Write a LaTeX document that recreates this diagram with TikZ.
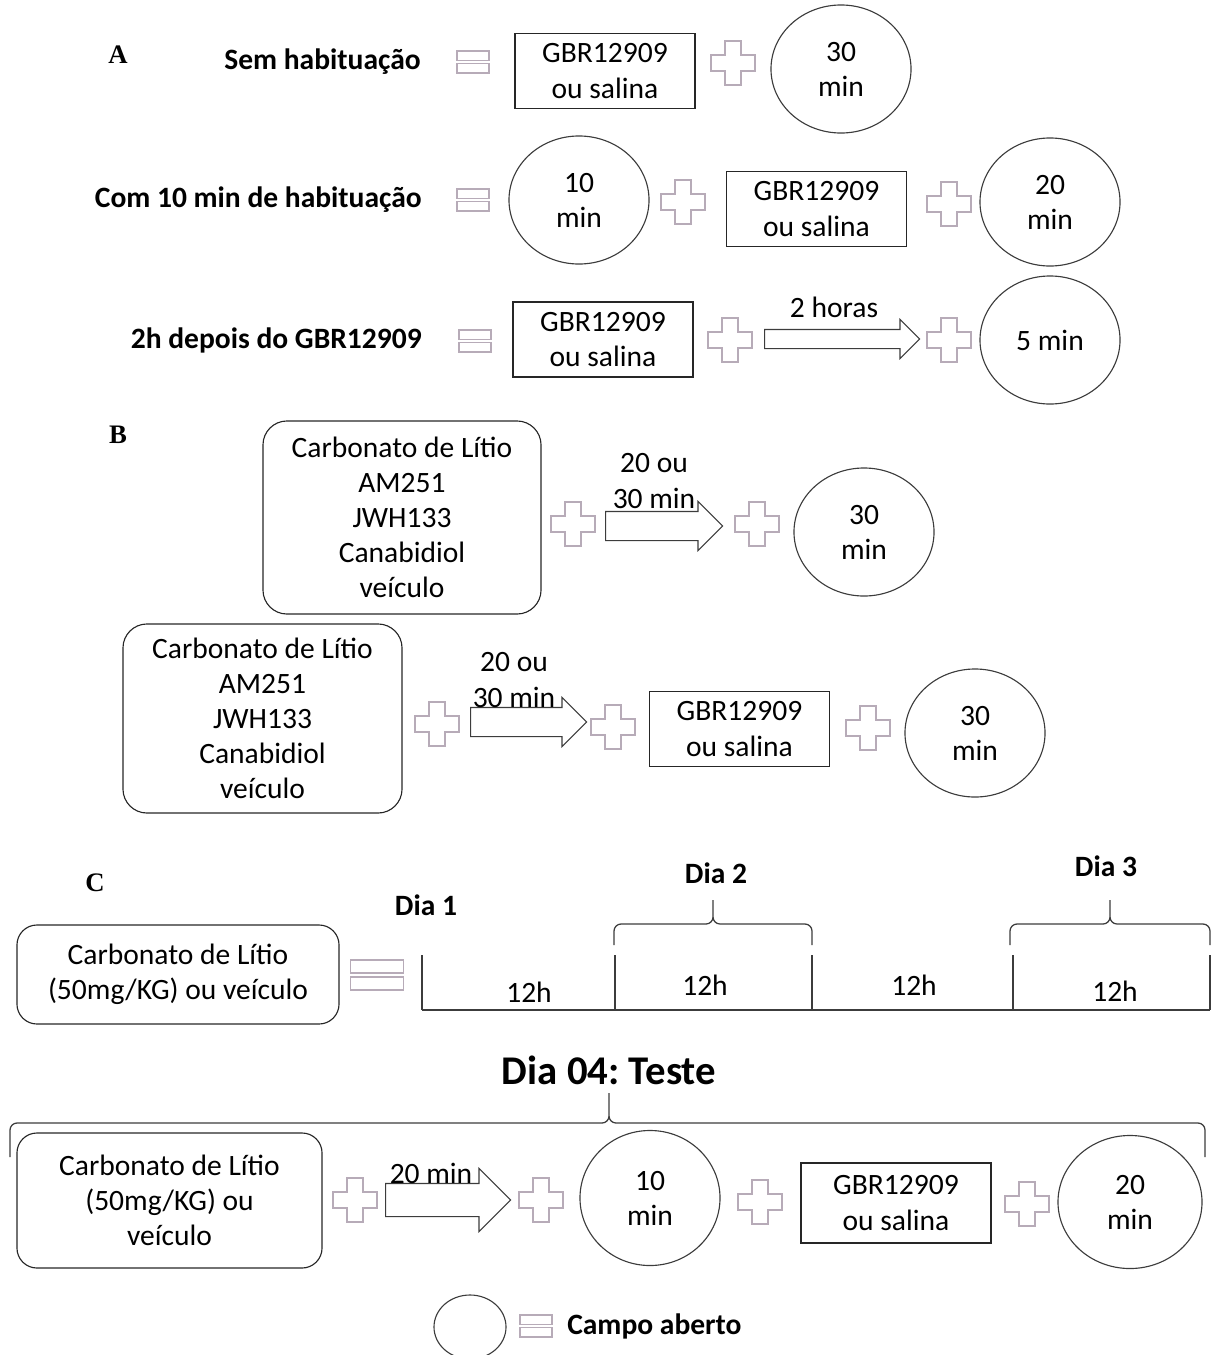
\documentclass[tikz,border=0pt]{standalone}
\usepackage{fontspec}
\setmainfont{Carlito}
\newfontfamily\letrafont{Liberation Serif}
\usetikzlibrary{positioning, shapes, shapes.arrows, calc}
\frenchspacing

\definecolor{cinza}{HTML}{B7ABB8}
\definecolor{traco}{HTML}{3C3C3C}

% chave: x1, x2, xm, yfim, ylinha, ypico
\newcommand{\chave}[6]{%
  \draw[traco, line width=0.9pt, rounded corners=5pt] (#1,#4) -- (#1,#5) -- (#3,#5) -- (#3,#6)
    (#3,#6) -- (#3,#5) -- (#2,#5) -- (#2,#4);}

\begin{document}
\begin{tikzpicture}[x=0.025cm, y=-0.025cm,
    txt/.style={font=\fontsize{21}{25}\selectfont, align=center, inner sep=0pt},
    bold/.style={font=\fontsize{21}{25}\selectfont\bfseries, inner sep=0pt},
    letra/.style={font=\fontsize{19}{22}\selectfont\letrafont\bfseries, inner sep=0pt},
    gbr/.style={draw=black!85, line width=0.8pt, txt, minimum width=4.5cm, minimum height=1.875cm},
    campo/.style={draw=traco, line width=0.8pt, ellipse, txt, minimum width=3.5cm, minimum height=3.2cm},
    droga/.style={draw=black!85, line width=0.8pt, rounded corners=0.6cm, txt},
    seta/.style={draw=traco, line width=0.8pt, single arrow, single arrow head extend=0.25cm,
      inner xsep=0pt, inner ysep=0.35cm, anchor=tail},
    somar/.pic={\draw[cinza, line width=1pt] (-8,-22) -- (8,-22) -- (8,-8) -- (22,-8) -- (22,8)
      -- (8,8) -- (8,22) -- (-8,22) -- (-8,8) -- (-22,8) -- (-22,-8) -- (-8,-8) -- cycle;},
    igual/.pic={\draw[cinza, line width=1pt] (-16,-11) rectangle (16,-1.5) (-16,1.5) rectangle (16,11);}]

    \useasboundingbox (0,0) rectangle (1211,1355);

    % A
    \node[letra] (A) at (118,55) {A};
    \node[bold, anchor=east] (semhab) at (421,62) {Sem habituação};
    \node[bold, anchor=east] (comhab) at (422,200) {Com 10 min de habituação};
    \node[bold, anchor=east] (depois) at (422,340) {2h depois do GBR12909};

    \node[gbr] (gbrA) at (605,71) {GBR12909\\ou salina};
    \node[campo] (campoA) at (841,69) {30\\min};

    \node[campo] (campoBa) at (579,200) {10\\min};
    \node[gbr] (gbrB) at (816.5,209) {GBR12909\\ou salina};
    \node[campo] (campoBb) at (1050,202) {20\\min};

    \node[gbr] (gbrC) at (603,339.5) {GBR12909\\ou salina};
    \node[seta, minimum height=3.875cm, inner ysep=0.225cm] (setaA) at (764,339) {};
    \node[txt] (horas) at (834,307) {2 horas};
    \node[campo] (campoC) at (1050,340) {5 min};

    % B
    \node[letra] (B) at (118,435) {B};
    \node[droga, minimum width=6.95cm, minimum height=4.825cm] (drogaB1) at (402,517.5)
      {Carbonato de Lítio\\AM251\\JWH133\\Canabidiol\\veículo};
    \node[seta, minimum height=2.925cm] (setaB1) at (605,526) {};
    \node[txt] (tempoB1) at (654,481) {20 ou\\30 min};
    \node[campo] (campoB1) at (864,532) {30\\min};

    \node[droga, minimum width=6.975cm, minimum height=4.725cm] (drogaB2) at (262.5,718.5)
      {Carbonato de Lítio\\AM251\\JWH133\\Canabidiol\\veículo};
    \node[seta, minimum height=2.9cm] (setaB2) at (470,722) {};
    \node[txt] (tempoB2) at (514,680) {20 ou\\30 min};
    \node[gbr] (gbrB2) at (739.5,729) {GBR12909\\ou salina};
    \node[campo] (campoB2) at (975,733) {30\\min};

    % C
    \node[letra] (C) at (95,883) {C};
    \node[droga, rounded corners=0.5cm, minimum width=8.05cm, minimum height=2.475cm] (litio) at (178,974.5)
      {Carbonato de Lítio\\(50mg/KG) ou veículo};
    \pic[xscale=1.64, yscale=1.36] at (377,975) {igual};

    \draw[traco, line width=1pt] (422,1010) -- (1210,1010);
    \foreach \x in {422,615,812,1013,1210}
      \draw[traco, line width=1pt] (\x,955) -- (\x,1010);
    \foreach \x/\y in {529/992, 705/985, 914/985, 1115/991}
      \node[txt] (h\x) at (\x,\y) {12h};

    \node[bold] (dia1) at (426,905) {Dia 1};
    \node[bold] (dia2) at (716,873) {Dia 2};
    \node[bold] (dia3) at (1106,866) {Dia 3};
    \chave{614}{812}{713}{945}{924}{900}
    \chave{1010}{1210}{1110}{945}{924}{900}

    \node[font=\fontsize{29}{34}\selectfont\bfseries, inner sep=0pt] (dia4) at (609,1070) {Dia 04: Teste};
    \chave{10}{1205}{609}{1157}{1123}{1093}

    \node[droga, rounded corners=0.5cm, minimum width=7.625cm, minimum height=3.375cm] (litioT) at (169.5,1200.5)
      {Carbonato de Lítio\\(50mg/KG) ou\\veículo};
    \node[seta, minimum height=3.125cm, inner ysep=0.4cm, single arrow head extend=0.375cm] (setaT) at (385,1200) {};
    \node[txt] (tempoT) at (431,1173) {20 min};
    \node[campo, minimum width=3.5cm, minimum height=3.375cm] (campoT1) at (650,1198) {10\\min};
    \node[gbr, minimum width=4.75cm, minimum height=2cm] (gbrT) at (896,1203) {GBR12909\\ou salina};
    \node[campo, minimum width=3.6cm, minimum height=3.325cm] (campoT2) at (1130,1202) {20\\min};

    % sinais
    \foreach \x/\y in {473/62, 473/200, 475/341}
      \pic at (\x,\y) {igual};
    \foreach \x/\y in {733/63, 683/202, 949/204, 730/340, 949/340, 573/524, 757/524,
        437/724, 613/727, 868/728, 355/1200, 541/1200, 760/1202, 1027/1204}
      \pic at (\x,\y) {somar};

    % legenda
    \node[campo, minimum width=1.8cm, minimum height=1.6cm] (legcampo) at (470,1327) {};
    \pic at (536,1326) {igual};
    \node[bold, anchor=west] (legtxt) at (567,1326) {Campo aberto};
\end{tikzpicture}
\end{document}
